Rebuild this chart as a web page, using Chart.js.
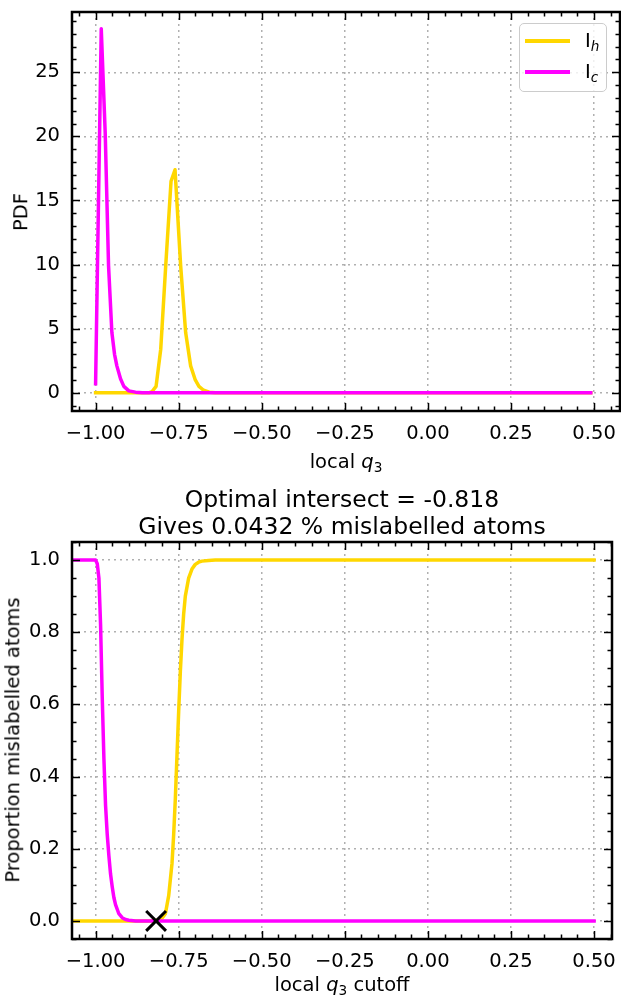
<!DOCTYPE html>
<html lang="en">
<head>
<meta charset="utf-8">
<title>local q3 cutoff</title>
<script src="https://cdn.jsdelivr.net/npm/chart.js@4.4.1/dist/chart.umd.min.js"></script>
<style>
  html, body { margin: 0; padding: 0; background: #fff; }
  body {
    position: relative; width: 621px; height: 997px; overflow: hidden;
    font-family: "DejaVu Sans", sans-serif; color: #000;
  }
  canvas { position: absolute; left: 0; }
  #pdfChart { top: 0; }
  #misChart { top: 480px; }
  .txt { position: absolute; white-space: nowrap; line-height: 1; transform: translate(-50%, -50%); }
  .rot { transform: translate(-50%, -50%) rotate(-90deg); }
  .ax { font-size: 19.5px; }
  .ttl { font-size: 23.5px; text-align: center; line-height: 27px; }
  sub { font-size: 70%; vertical-align: -0.3em; line-height: 0; }
  .math { font-style: italic; }
  #legend {
    position: absolute; left: 519px; top: 23px; width: 86px; height: 67px;
    border: 1px solid #cccccc; border-radius: 5px; background: rgba(255, 255, 255, 0.8);
  }
  .legLine { position: absolute; left: 5px; width: 45px; height: 3.5px; }
  .legText { position: absolute; left: 65px; font-size: 19.5px; line-height: 1; transform: translateY(-50%); }
</style>
</head>
<body>
<canvas id="pdfChart" width="621" height="480"></canvas>
<canvas id="misChart" width="621" height="517"></canvas>

<div class="txt ax" style="left:346px; top:462px">local <span class="math">q</span><sub>3</sub></div>
<div class="txt ax rot" style="left:21px; top:212px">PDF</div>
<div id="legend"></div>

<div class="txt ttl" id="misTitle" style="left:342px; top:513px"></div>
<div class="txt ax" style="left:342px; top:985px">local <span class="math">q</span><sub>3</sub> cutoff</div>
<div class="txt ax rot" style="left:13px; top:740px">Proportion mislabelled atoms</div>

<script>
// axis ticks
const xTicks = [-1.0, -0.75, -0.5, -0.25, 0.0, 0.25, 0.5];
const pdfTicks = [0, 5, 10, 15, 20, 25];
const propTicks = [0.0, 0.2, 0.4, 0.6, 0.8, 1.0];

// series names (I_h, I_c)
const phases = ["h", "c"];
const phaseColors = ["#ffd700", "#ff00ff"];

// PDF of local q3, I_h
const ihPdfX = [-1.0, -0.84, -0.83, -0.818, -0.804, -0.789, -0.773, -0.761, -0.744, -0.729, -0.714, -0.70, -0.689, -0.675, -0.658, -0.64, 0.49];
const ihPdfY = [0, 0, 0.1, 0.5, 3.4, 9.9, 16.5, 17.4, 9.9, 4.7, 2.1, 1.0, 0.5, 0.2, 0.05, 0, 0];

// PDF of local q3, I_c
const icPdfX = [-1.0, -0.983, -0.971, -0.961, -0.951, -0.943, -0.936, -0.925, -0.915, -0.90, -0.88, -0.86, 0.49];
const icPdfY = [0.7, 28.4, 20.2, 9.9, 4.7, 3.0, 2.1, 1.1, 0.5, 0.15, 0.05, 0, 0];

// proportion of I_h atoms mislabelled at each cutoff
const ihMisX = [-1.071, -0.83, -0.81, -0.80, -0.79, -0.78, -0.77, -0.765, -0.76, -0.755, -0.75, -0.745, -0.74, -0.735, -0.73, -0.72, -0.71, -0.70, -0.69, -0.68, -0.66, -0.64, 0.5];
const ihMisY = [0, 0, 0.003, 0.008, 0.02, 0.07, 0.16, 0.24, 0.34, 0.46, 0.58, 0.69, 0.78, 0.85, 0.90, 0.95, 0.975, 0.988, 0.994, 0.997, 0.999, 1.0, 1.0];

// proportion of I_c atoms mislabelled at each cutoff
const icMisX = [-1.071, -1.0, -0.995, -0.99, -0.985, -0.98, -0.975, -0.97, -0.965, -0.96, -0.955, -0.95, -0.945, -0.94, -0.93, -0.92, -0.91, -0.90, -0.88, 0.5];
const icMisY = [1.0, 1.0, 0.99, 0.95, 0.82, 0.62, 0.45, 0.32, 0.24, 0.18, 0.13, 0.095, 0.065, 0.045, 0.02, 0.009, 0.004, 0.002, 0, 0];

const optimalCut = -0.818;
const mislabelledPct = "0.0432";

const FONT = { family: "'DejaVu Sans', sans-serif", size: 19.5 };

const pts = (xs, ys) => xs.map((x, i) => ({ x, y: ys[i] }));
const fmt = (d) => (v) => {
  const s = Number(v).toFixed(d);
  return s.startsWith("-") ? "\u2212" + s.slice(1) : s;
};

// scales should not reserve room for overhanging labels
const noPad = (s) => { s.paddingLeft = s.paddingRight = s.paddingTop = s.paddingBottom = 0; };

// inward ticks on all four sides plus a heavy frame
const frameTicks = {
  id: "frameTicks",
  afterDatasetsDraw(chart, args, opts) {
    const { ctx, chartArea: a } = chart;
    const sx = chart.scales.x;
    const sy = chart.scales.y;
    const minor = (s, step) => {
      const out = [];
      for (let i = Math.ceil(s.min / step - 1e-6); i * step <= s.max + 1e-9; i++) out.push(i * step);
      return out;
    };
    ctx.save();
    ctx.strokeStyle = "#000";
    ctx.lineWidth = 1.5;
    ctx.beginPath();
    const xm = minor(sx, opts.xStep).map((v) => [v, 4.5]).concat(sx.ticks.map((t) => [t.value, 8]));
    xm.forEach(([v, len]) => {
      const p = Math.round(sx.getPixelForValue(v)) + 0.5;
      ctx.moveTo(p, a.bottom); ctx.lineTo(p, a.bottom - len);
      ctx.moveTo(p, a.top); ctx.lineTo(p, a.top + len);
    });
    const ym = minor(sy, opts.yStep).map((v) => [v, 4.5]).concat(sy.ticks.map((t) => [t.value, 8]));
    ym.forEach(([v, len]) => {
      const p = Math.round(sy.getPixelForValue(v)) + 0.5;
      ctx.moveTo(a.left, p); ctx.lineTo(a.left + len, p);
      ctx.moveTo(a.right, p); ctx.lineTo(a.right - len, p);
    });
    ctx.stroke();
    ctx.lineWidth = 2.5;
    ctx.strokeRect(a.left, a.top, a.right - a.left, a.bottom - a.top);
    ctx.restore();
  },
};

function xAxis(min, max, height) {
  return {
    type: "linear",
    min, max,
    afterBuildTicks: (s) => { s.ticks = xTicks.map((v) => ({ value: v })); },
    afterFit: (s) => { s.height = height; noPad(s); },
    ticks: { font: FONT, color: "#000", padding: 11, maxRotation: 0, callback: fmt(2) },
    grid: { color: "#b0b0b0", lineWidth: 1.5, drawTicks: false },
    border: { display: false, dash: [2, 4] },
  };
}

function yAxis(min, max, ticks, digits) {
  return {
    type: "linear",
    min, max,
    afterBuildTicks: (s) => { s.ticks = ticks.map((v) => ({ value: v })); },
    afterFit: (s) => { s.width = 72; noPad(s); },
    ticks: { font: FONT, color: "#000", padding: 12, callback: fmt(digits) },
    grid: { color: "#b0b0b0", lineWidth: 1.5, drawTicks: false },
    border: { display: false, dash: [2, 4] },
  };
}

function line(label, data, color) {
  return {
    label, data,
    borderColor: color,
    borderWidth: 3.5,
    borderCapStyle: "square",
    borderJoinStyle: "round",
    pointRadius: 0,
    tension: 0,
    order: label === "c" ? 1 : 2,
  };
}

function baseOptions(padTop, padRight) {
  return {
    responsive: false,
    devicePixelRatio: 1,
    animation: false,
    layout: { autoPadding: false, padding: { top: padTop, right: padRight, left: 0, bottom: 0 } },
    plugins: { legend: { display: false }, tooltip: { enabled: false } },
  };
}

// PDF panel
new Chart(document.getElementById("pdfChart"), {
  type: "line",
  data: {
    datasets: [
      line(phases[0], pts(ihPdfX, ihPdfY), phaseColors[0]),
      line(phases[1], pts(icPdfX, icPdfY), phaseColors[1]),
    ],
  },
  options: {
    ...baseOptions(12, 1),
    scales: { x: xAxis(-1.071, 0.578, 69), y: yAxis(-1.42, 29.7, pdfTicks, 0) },
    plugins: { ...baseOptions().plugins, frameTicks: { xStep: 0.05, yStep: 1 } },
  },
  plugins: [frameTicks],
});

// mislabelled fraction panel
new Chart(document.getElementById("misChart"), {
  type: "line",
  data: {
    datasets: [
      line(phases[0], pts(ihMisX, ihMisY), phaseColors[0]),
      line(phases[1], pts(icMisX, icMisY), phaseColors[1]),
      {
        type: "scatter",
        label: "optimal",
        data: [{ x: optimalCut, y: 0 }],
        pointStyle: "crossRot",
        pointRadius: 14,
        borderColor: "#000",
        borderWidth: 3,
        order: 0,
      },
    ],
  },
  options: {
    ...baseOptions(62, 9),
    scales: { x: xAxis(-1.071, 0.554, 58), y: yAxis(-0.05, 1.05, propTicks, 1) },
    plugins: { ...baseOptions().plugins, frameTicks: { xStep: 0.05, yStep: 0.05 } },
  },
  plugins: [frameTicks],
});

// legend box
const legend = document.getElementById("legend");
phases.forEach((p, i) => {
  const y = 17 + i * 31;
  const ln = document.createElement("div");
  ln.className = "legLine";
  ln.style.top = (y - 1.75) + "px";
  ln.style.background = phaseColors[i];
  legend.appendChild(ln);
  const tx = document.createElement("div");
  tx.className = "legText";
  tx.style.top = y + "px";
  tx.innerHTML = 'I<sub class="math">' + p + "</sub>";
  legend.appendChild(tx);
});

document.getElementById("misTitle").innerHTML =
  "Optimal intersect = " + optimalCut.toFixed(3) + "<br>Gives " + mislabelledPct + " % mislabelled atoms";
</script>
</body>
</html>
